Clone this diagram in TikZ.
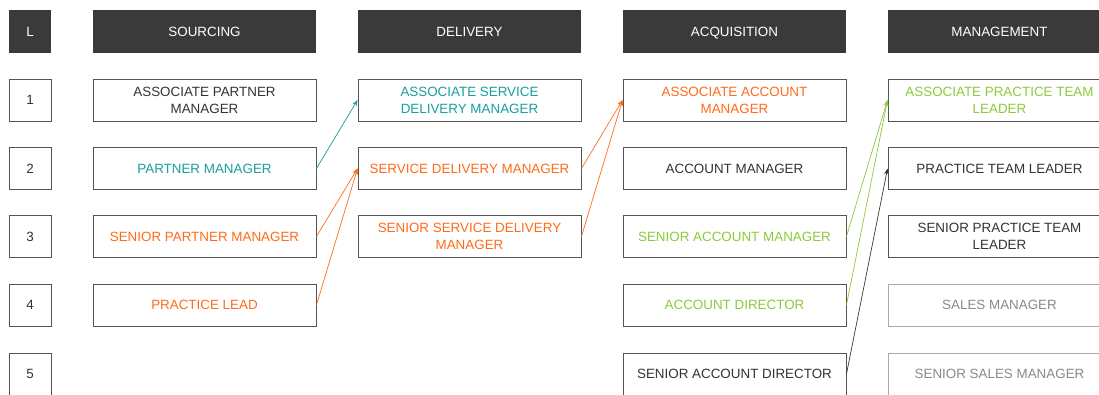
\documentclass[tikz,border=0pt]{standalone}
\usepackage{fontspec}
\setmainfont{Liberation Sans}
\usetikzlibrary{arrows.meta}
\definecolor{hdr}{HTML}{3A3A3A}
\definecolor{ink}{HTML}{333333}
\definecolor{frame}{HTML}{555555}
\definecolor{faint}{HTML}{AAAAAA}
\definecolor{mute}{HTML}{8A8A8A}
\definecolor{teal}{HTML}{1A9E9E}
\definecolor{orng}{HTML}{FF6B1A}
\definecolor{lime}{HTML}{8CCB3C}
\tikzset{
  every node/.style={font=\fontsize{13.4}{16.8}\selectfont, align=center, inner sep=0pt},
  head/.style={fill=hdr, text=white, minimum width=223pt, minimum height=43pt,
    text height=9.6pt, text depth=0pt},
  lhead/.style={head, minimum width=42pt},
  role/.style={draw=frame, line width=0.9pt, fill=white, text=ink, minimum width=223pt, minimum height=42pt},
  lvl/.style={role, minimum width=42pt},
  dim/.style={role, draw=faint, text=mute},
  link/.style={line width=0.7pt, -{Stealth[length=6pt,width=4.5pt]}},
}
\begin{document}
\begin{tikzpicture}[x=1pt,y=-1pt]
\useasboundingbox (0,0) rectangle (1099,394);
\clip (0,0) rectangle (1099,394);
% column headers
\node[lhead] (hL) at (30,31.8) {L};
\node[head] (hS) at (204.5,31.8) {SOURCING};
\node[head] (hD) at (469.5,31.8) {DELIVERY};
\node[head] (hA) at (734.5,31.8) {ACQUISITION};
\node[head] (hM) at (999.5,31.8) {MANAGEMENT};
% level numbers
\node[lvl] (l1) at (30,100) {1};
\node[lvl] (l2) at (30,168.5) {2};
\node[lvl] (l3) at (30,236.5) {3};
\node[lvl] (l4) at (30,305) {4};
\node[lvl] (l5) at (30,374) {5};
% sourcing
\node[role] (s1) at (204.5,100) {ASSOCIATE PARTNER\\MANAGER};
\node[role, text=teal] (s2) at (204.5,168.5) {PARTNER MANAGER};
\node[role, text=orng] (s3) at (204.5,236.5) {SENIOR PARTNER MANAGER};
\node[role, text=orng] (s4) at (204.5,305) {PRACTICE LEAD};
% delivery
\node[role, text=teal] (d1) at (469.5,100) {ASSOCIATE SERVICE\\DELIVERY MANAGER};
\node[role, text=orng] (d2) at (469.5,168.5) {SERVICE DELIVERY MANAGER};
\node[role, text=orng] (d3) at (469.5,236.5) {SENIOR SERVICE DELIVERY\\MANAGER};
% acquisition
\node[role, text=orng] (a1) at (734.5,100) {ASSOCIATE ACCOUNT\\MANAGER};
\node[role] (a2) at (734.5,168.5) {ACCOUNT MANAGER};
\node[role, text=lime] (a3) at (734.5,236.5) {SENIOR ACCOUNT MANAGER};
\node[role, text=lime] (a4) at (734.5,305) {ACCOUNT DIRECTOR};
\node[role] (a5) at (734.5,374) {SENIOR ACCOUNT DIRECTOR};
% management
\node[role, text=lime] (m1) at (999.5,100) {ASSOCIATE PRACTICE TEAM\\LEADER};
\node[role] (m2) at (999.5,168.5) {PRACTICE TEAM LEADER};
\node[role] (m3) at (999.5,236.5) {SENIOR PRACTICE TEAM\\LEADER};
\node[dim] (m4) at (999.5,305) {SALES MANAGER};
\node[dim] (m5) at (999.5,374) {SENIOR SALES MANAGER};
% career paths
\draw[link, teal] (s2.east) -- (d1.west);
\draw[link, orng] (s3.east) -- (d2.west);
\draw[link, orng] (s4.east) -- (d2.west);
\draw[link, orng] (d2.east) -- (a1.west);
\draw[link, orng] (d3.east) -- (a1.west);
\draw[link, lime] (a3.east) -- (m1.west);
\draw[link, lime] (a4.east) -- (m1.west);
\draw[link, ink] (a5.east) -- (m2.west);
\end{tikzpicture}
\end{document}
